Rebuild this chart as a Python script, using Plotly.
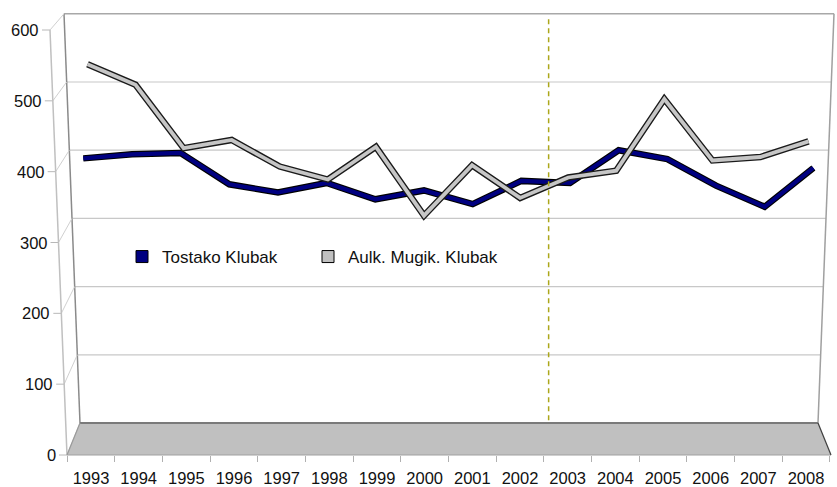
import plotly.graph_objects as go

# ---------------- data ----------------
YEARS = list(range(1993, 2009))
YEAR_LABELS = [str(y) for y in YEARS]
TOSTAKO = [388, 394, 396, 350, 338, 352, 328, 341, 321, 355, 352, 400, 387, 348, 317, 374]
AULK = [526, 496, 403, 415, 376, 357, 405, 304, 378, 330, 360, 370, 475, 385, 390, 413]
Y_TICKS = [0, 100, 200, 300, 400, 500, 600]
SERIES_NAMES = ["Tostako Klubak", "Aulk. Mugik. Klubak"]
MARK_POS = 9.6  # dashed marker between 2002 and 2003 (category index)

# ---------------- geometry (pixels) ----------------
W, H = 837, 487
PLOT_BOTTOM = 455
BACK_ZERO, BACK_SCALE = 423, 0.682
FRONT_ZERO, FRONT_TOP = 455, 30
FRONT_SCALE = (FRONT_ZERO - FRONT_TOP) / 600
FRONT_X0, FRONT_X600 = 67, 50
BACK_L0, BACK_L600 = 80, 64
BACK_R0, BACK_R600 = 818, 834
YMAX = 600
CAT_FIRST, CAT_STEP = 91, 47.67
NAVY_FIRST, NAVY_STEP = 83.3, 48.67
GRAY_FIRST, GRAY_STEP = 87.5, 48.07
LEGEND_SWATCH_X = [141, 327]
LEGEND_Y = 257

FONT = "Liberation Sans, Arial, sans-serif"
TICK_SIZE = 16.5
LEGEND_SIZE = 17


def px(x):
    return x / W


def py(y):
    return 1 - y / PLOT_BOTTOM


def back_y(v):
    return BACK_ZERO - BACK_SCALE * v


def back_l(v):
    return BACK_L0 + (BACK_L600 - BACK_L0) * v / YMAX


def back_r(v):
    return BACK_R0 + (BACK_R600 - BACK_R0) * v / YMAX


def front_y(v):
    return FRONT_ZERO - FRONT_SCALE * v


def front_x(v):
    return FRONT_X0 + (FRONT_X600 - FRONT_X0) * v / YMAX


def path(points):
    return "M" + " L".join(f"{px(a):.5f},{py(b):.5f}" for a, b in points) + " Z"


fig = go.Figure()

# series ribbons (gray behind, navy in front)
fig.add_trace(go.Scatter(x=YEARS, y=AULK, xaxis="x3", yaxis="y", mode="lines",
                         line=dict(color="#1a1a1a", width=6.5), showlegend=False, hoverinfo="skip"))
fig.add_trace(go.Scatter(x=YEARS, y=AULK, xaxis="x3", yaxis="y", mode="lines",
                         line=dict(color="#c6c6c6", width=3.8), showlegend=False, name=SERIES_NAMES[1]))
fig.add_trace(go.Scatter(x=YEARS, y=TOSTAKO, xaxis="x2", yaxis="y", mode="lines",
                         line=dict(color="#000000", width=6.5), showlegend=False, hoverinfo="skip"))
fig.add_trace(go.Scatter(x=YEARS, y=TOSTAKO, xaxis="x2", yaxis="y", mode="lines",
                         line=dict(color="#000080", width=4.2), showlegend=False, name=SERIES_NAMES[0]))

# legend-only swatches (one legend each so spacing matches)
fig.add_trace(go.Scatter(x=[None], y=[None], mode="markers", name=SERIES_NAMES[0], legend="legend",
                         marker=dict(symbol="square", size=12, color="#000080",
                                     line=dict(color="#000000", width=1))))
fig.add_trace(go.Scatter(x=[None], y=[None], mode="markers", name=SERIES_NAMES[1], legend="legend2",
                         marker=dict(symbol="square", size=12, color="#c0c0c0",
                                     line=dict(color="#000000", width=1))))

shapes = []
# back wall
shapes.append(dict(type="path", xref="paper", yref="paper", layer="below",
                   path=path([(back_l(YMAX), back_y(YMAX)), (back_r(YMAX), back_y(YMAX)),
                              (back_r(0), back_y(0)), (back_l(0), back_y(0))]),
                   fillcolor="white", line=dict(width=0)))
# gridlines on back wall
for v in Y_TICKS[1:-1]:
    shapes.append(dict(type="line", xref="paper", yref="y", layer="below",
                       x0=px(back_l(v)), x1=px(back_r(v)), y0=v, y1=v,
                       line=dict(color="#c8c8c8", width=1.2)))
# wall edges
shapes.append(dict(type="line", xref="paper", yref="paper", layer="below",
                   x0=px(back_l(YMAX)), x1=px(back_r(YMAX)), y0=py(back_y(YMAX)), y1=py(back_y(YMAX)),
                   line=dict(color="#a8a8a8", width=1.5)))
shapes.append(dict(type="line", xref="paper", yref="paper", layer="below",
                   x0=px(back_l(YMAX)), x1=px(back_l(0)), y0=py(back_y(YMAX)), y1=py(back_y(0)),
                   line=dict(color="#8a8a8a", width=1.5)))
shapes.append(dict(type="line", xref="paper", yref="paper", layer="below",
                   x0=px(back_r(YMAX)), x1=px(back_r(0)), y0=py(back_y(YMAX)), y1=py(back_y(0)),
                   line=dict(color="#a0a0a0", width=1.5)))
# side diagonals + front axis ticks
for v in Y_TICKS:
    shapes.append(dict(type="line", xref="paper", yref="paper", layer="below",
                       x0=px(front_x(v)), x1=px(back_l(v)), y0=py(front_y(v)), y1=py(back_y(v)),
                       line=dict(color="#d0d0d0", width=1)))
    shapes.append(dict(type="line", xref="paper", yref="paper", layer="below",
                       x0=px(front_x(v) - 8), x1=px(front_x(v)), y0=py(front_y(v)), y1=py(front_y(v)),
                       line=dict(color="#b8b8b8", width=1)))
# front axis line
shapes.append(dict(type="line", xref="paper", yref="paper", layer="below",
                   x0=px(front_x(0)), x1=px(front_x(YMAX)), y0=py(front_y(0)), y1=py(front_y(YMAX)),
                   line=dict(color="#c0c0c0", width=1.5)))
# floor
floor_rx = back_r(0) + (back_l(0) - front_x(0))
shapes.append(dict(type="path", xref="paper", yref="paper", layer="below",
                   path=path([(front_x(0), front_y(0)), (back_l(0), back_y(0)),
                              (back_r(0), back_y(0)), (floor_rx, front_y(0))]),
                   fillcolor="#c0c0c0", line=dict(width=0)))
shapes.append(dict(type="line", xref="paper", yref="paper", layer="below",
                   x0=px(back_l(0)), x1=px(back_r(0)), y0=py(back_y(0)), y1=py(back_y(0)),
                   line=dict(color="#7a7a7a", width=1.8)))
shapes.append(dict(type="line", xref="paper", yref="paper", layer="below",
                   x0=px(front_x(0)), x1=px(floor_rx), y0=py(front_y(0)), y1=py(front_y(0)),
                   line=dict(color="#a0a0a0", width=1.2)))
shapes.append(dict(type="line", xref="paper", yref="paper", layer="below",
                   x0=px(front_x(0)), x1=px(back_l(0)), y0=py(front_y(0)), y1=py(back_y(0)),
                   line=dict(color="#9a9a9a", width=1.2)))
shapes.append(dict(type="line", xref="paper", yref="paper", layer="below",
                   x0=px(back_r(0)), x1=px(floor_rx), y0=py(back_y(0)), y1=py(front_y(0)),
                   line=dict(color="#404040", width=1.2)))
# dashed marker line
shapes.append(dict(type="line", xref="x", yref="y", layer="above",
                   x0=MARK_POS, x1=MARK_POS, y0=4, y1=596,
                   line=dict(color="#aca71a", width=1.5, dash="5px,4px")))

# y tick labels along the slanted front axis
annotations = []
for v in Y_TICKS:
    annotations.append(dict(xref="paper", yref="y2", x=px(front_x(v) - 9), y=v,
                            text=str(v), showarrow=False, xanchor="right", yanchor="middle",
                            font=dict(family=FONT, size=TICK_SIZE, color="#111111")))

y_r1 = BACK_ZERO / BACK_SCALE
y_r0 = y_r1 - PLOT_BOTTOM / BACK_SCALE
y2_r1 = FRONT_ZERO / FRONT_SCALE
y2_r0 = y2_r1 - PLOT_BOTTOM / FRONT_SCALE

cat_r0 = -CAT_FIRST / CAT_STEP
nav_r0 = YEARS[0] - NAVY_FIRST / NAVY_STEP
gry_r0 = YEARS[0] - GRAY_FIRST / GRAY_STEP

legend_common = dict(orientation="h", y=py(LEGEND_Y), xanchor="left", yanchor="middle",
                     bgcolor="rgba(0,0,0,0)", font=dict(family=FONT, size=LEGEND_SIZE, color="#111111"))

fig.update_layout(
    width=W, height=H,
    margin=dict(l=0, r=0, t=0, b=H - PLOT_BOTTOM, pad=0, autoexpand=False),
    paper_bgcolor="white", plot_bgcolor="rgba(0,0,0,0)",
    font=dict(family=FONT, size=TICK_SIZE, color="#111111"),
    xaxis=dict(type="category", categoryorder="array", categoryarray=YEAR_LABELS,
               tickvals=YEAR_LABELS, ticktext=YEAR_LABELS, tickangle=0, automargin=False,
               range=[cat_r0, cat_r0 + W / CAT_STEP], ticks="outside", tickson="boundaries",
               ticklen=6, tickcolor="#b0b0b0", tickwidth=1, showgrid=False, showline=False,
               ticklabelstandoff=11,
               zeroline=False, fixedrange=True, tickfont=dict(family=FONT, size=TICK_SIZE)),
    xaxis2=dict(overlaying="x", range=[nav_r0, nav_r0 + W / NAVY_STEP], visible=False, automargin=False),
    xaxis3=dict(overlaying="x", range=[gry_r0, gry_r0 + W / GRAY_STEP], visible=False, automargin=False),
    yaxis=dict(range=[y_r0, y_r1], visible=False, automargin=False),
    yaxis2=dict(overlaying="y", range=[y2_r0, y2_r1], visible=False, automargin=False),
    shapes=shapes,
    annotations=annotations,
    showlegend=True,
    legend=dict(x=px(LEGEND_SWATCH_X[0] - 19), **legend_common),
    legend2=dict(x=px(LEGEND_SWATCH_X[1] - 19), **legend_common),
)

fig.write_html("out.html", config={"displayModeBar": False},
               post_script="document.body.style.margin='0';")
